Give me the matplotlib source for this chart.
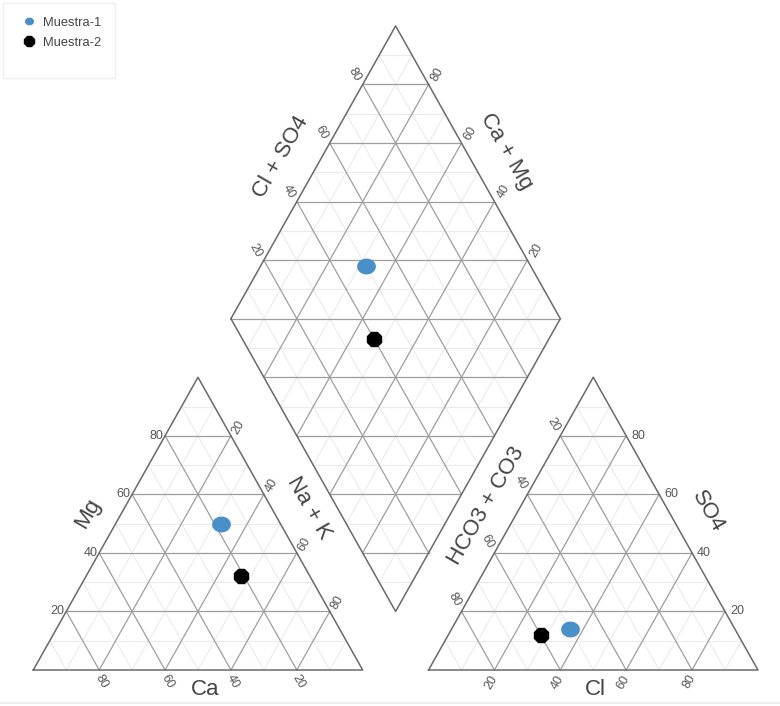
import numpy as np
import matplotlib.pyplot as plt
from matplotlib.path import Path
from matplotlib.patches import Rectangle
from matplotlib.lines import Line2D

plt.rcParams['font.family'] = ['Liberation Sans', 'DejaVu Sans']

samples = ['Muestra-1', 'Muestra-2']
colors = ['#4a90c8', '#000000']
# cations (%)
ca = [18, 21]
mg = [50, 32]
na_k = [32, 47]
# anions (%)
hco3_co3 = [50, 60]
so4 = [14, 12]
cl = [36, 28]

ticks = [20, 40, 60, 80]

GAP = 20
H = np.sqrt(3) / 2
U = np.array([0.5, H])
V = np.array([-0.5, H])
RX = 100 + GAP                      # x offset of the anion triangle
D_bot = np.array([100 + GAP / 2, GAP * H])
D_left = D_bot + 100 * V
D_right = D_bot + 100 * U
D_top = D_bot + 100 * U + 100 * V

MAJOR = '#9e9e9e'
MINOR = '#ebebeb'
EDGE = '#6a6a6a'
TXT = '#555555'

fig = plt.figure(figsize=(7.8, 7.06), dpi=100)
ax = fig.add_axes([0, 0, 1, 1])
ax.set_xlim(-10.11, 226.7)
ax.set_ylim(-10.65, 198.2)
ax.axis('off')


def tri_grid(p0, p1, p2, outline=True):
    pts = [np.array(p, float) for p in (p0, p1, p2)]
    for k in range(1, 10):
        f = k / 10
        major = k % 2 == 0
        for i in range(3):
            a, b, c = pts[i], pts[(i + 1) % 3], pts[(i + 2) % 3]
            s = a + f * (b - a)
            e = a + f * (c - a)
            ax.plot([s[0], e[0]], [s[1], e[1]],
                    color=MAJOR if major else MINOR,
                    lw=0.9 if major else 0.8, zorder=2 if major else 1)
    if outline:
        xs = [p[0] for p in pts] + [pts[0][0]]
        ys = [p[1] for p in pts] + [pts[0][1]]
        ax.plot(xs, ys, color=EDGE, lw=1.1, zorder=3)


# cation triangle: Ca (0,0), Na+K (100,0), Mg (50, 86.6)
tri_grid((0, 0), (100, 0), (50, 100 * H))
# anion triangle
tri_grid((RX, 0), (RX + 100, 0), (RX + 50, 100 * H))
# diamond: two triangles
tri_grid(D_left, D_top, D_right, outline=False)
tri_grid(D_left, D_bot, D_right, outline=False)
ax.plot([D_left[0], D_right[0]], [D_left[1], D_right[1]], color=MAJOR, lw=0.9, zorder=2)
dia = np.array([D_left, D_top, D_right, D_bot, D_left])
ax.plot(dia[:, 0], dia[:, 1], color=EDGE, lw=1.1, zorder=3)


def tick_labels(pts, rot, off, ha='center'):
    for p, v in zip(pts, ticks):
        ax.annotate(str(v), xy=p, xytext=off, textcoords='offset points',
                    ha=ha, va='center', rotation=rot, fontsize=9, color=TXT)


t = np.array(ticks, float)
# Mg along left edge
tick_labels([(v / 2, v * H) for v in t], 0, (-1.2, 0), ha='right')
# Ca along bottom
tick_labels([(100 - v, 0) for v in t], -60, (1.4, -8.6))
# Na+K along right edge
tick_labels([(50 + v / 2, (100 - v) * H) for v in t], 60, (5.4, 6.1))
# Cl along bottom
tick_labels([(RX + v, 0) for v in t], 60, (-2.2, -8.6))
# SO4 along right edge
tick_labels([(RX + 100 - v / 2, v * H) for v in t], 0, (3.6, 0), ha='left')
# HCO3+CO3 along left edge
tick_labels([(RX + (100 - v) / 2, (100 - v) * H) for v in t], -60, (-5, 8.3))
# diamond: Cl+SO4 on upper-left, Ca+Mg on upper-right
tick_labels([D_left + v * U for v in t], -60, (-6, 7.2))
tick_labels([D_right + v * V for v in t], 60, (6.5, 7.2))

# axis titles
tkw = dict(fontsize=16, color='#444444', ha='center', va='center')
ax.text(16.5, 46.2, 'Mg', rotation=60, **tkw)
ax.text(52.1, -5.9, 'Ca', **tkw)
ax.text(83.6, 48.0, 'Na + K', rotation=-60, **tkw)
ax.text(137.7, 48.5, 'HCO3 + CO3', rotation=60, **tkw)
ax.text(204.8, 47.0, 'SO4', rotation=-60, **tkw)
ax.text(170.5, -5.9, 'Cl', **tkw)
ax.text(75.2, 151.8, 'Cl + SO4', rotation=60, **tkw)
ax.text(143.5, 153.3, 'Ca + Mg', rotation=-60, **tkw)

# sample markers
t_ = np.linspace(0, 2 * np.pi, 60)
ellipse = Path(np.column_stack([1.2 * np.cos(t_), np.sin(t_)]))
markers = [ellipse, '8']
sizes = [12.5, 11]
handles = []
for i, name in enumerate(samples):
    cx = np.array([na_k[i] + mg[i] / 2])
    cy = np.array([mg[i] * H])
    axp = np.array([RX + cl[i] + so4[i] / 2])
    ayp = np.array([so4[i] * H])
    dp = D_bot + (100 - na_k[i]) * V + (cl[i] + so4[i]) * U
    xs = np.concatenate([cx, axp, [dp[0]]])
    ys = np.concatenate([cy, ayp, [dp[1]]])
    ln, = ax.plot(xs, ys, ls='none', marker=markers[i], ms=sizes[i],
                  color=colors[i], mec=colors[i], zorder=5, label=name)
    handles.append(ln)

leg = ax.legend(handles=handles, loc='upper left',
                bbox_to_anchor=(22.5 / 780, 1 - 16.5 / 706),
                bbox_transform=fig.transFigure, frameon=False, borderpad=0,
                borderaxespad=0, handlelength=1.0, handletextpad=0.6,
                labelspacing=0.62, fontsize=9.3)
for h, s in zip(leg.legend_handles, [5.5, 8]):
    h.set_markersize(s)
for txt in leg.get_texts():
    txt.set_color('#444444')

fig.patches.append(Rectangle((3 / 780, 1 - 78 / 706), 112 / 780, 75 / 706,
                             transform=fig.transFigure, fill=False,
                             edgecolor='#eeeeee', lw=1))
fig.lines.append(Line2D([0, 1], [1 - 703 / 706] * 2, transform=fig.transFigure,
                        color='#eeeeee', lw=1.5))

fig.savefig('out.png', dpi=100)
